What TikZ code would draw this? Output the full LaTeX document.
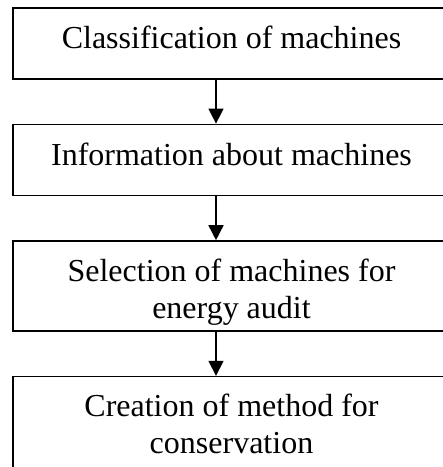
\documentclass[tikz,border=0pt]{standalone}
\usepackage{fontspec}
\setmainfont{Liberation Serif}
\usetikzlibrary{arrows.meta,positioning}

\begin{document}
\begin{tikzpicture}[x=1pt, y=-1pt, node distance=44pt, every node/.style={font=\fontsize{32}{37}\selectfont}, box/.style={draw, line width=1.6pt, minimum width=437pt, inner xsep=0pt, inner ysep=0pt, text height=41pt, align=center}, arr/.style={-{Triangle[width=15pt,length=15pt]}, line width=1.5pt}]
\clip (0,0) rectangle (443,467);
\node[box, text depth=30pt, anchor=north] (classify) at (231.5,7) {Classification of machines};
\node[box, text depth=30pt, below=of classify] (info) {Information about machines};
\node[box, text height=77pt, text depth=13pt, below=of info] (select) {Selection of machines for\\energy audit};
\node[box, text height=77pt, text depth=40pt, below=of select] (create) {Creation of method for\\conservation};
\draw[arr] ([xshift=-15.5pt]classify.south) -- ([xshift=-15.5pt]info.north);
\draw[arr] ([xshift=-15.5pt]info.south) -- ([xshift=-15.5pt]select.north);
\draw[arr] ([xshift=-15.5pt]select.south) -- ([xshift=-15.5pt]create.north);
\end{tikzpicture}
\end{document}
